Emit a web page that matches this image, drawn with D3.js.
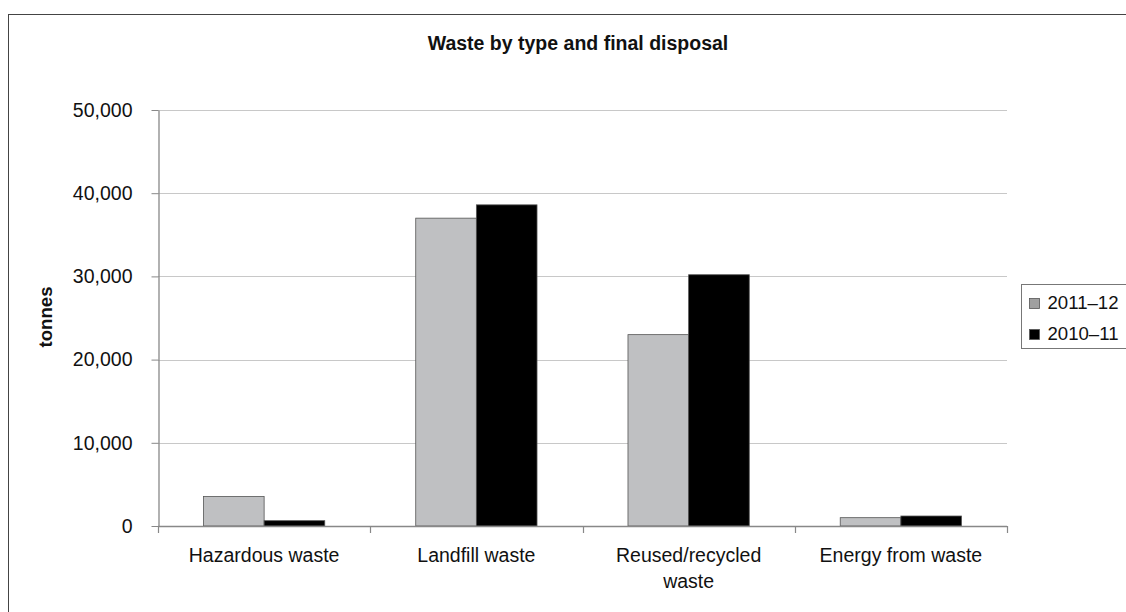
<!DOCTYPE html>
<html>
<head>
<meta charset="utf-8">
<script src="https://cdn.jsdelivr.net/npm/d3@7"></script>
<style>
  html, body { margin: 0; padding: 0; background: #fff; }
  svg { display: block; font-family: "Liberation Sans", Arial, sans-serif; }
</style>
</head>
<body>
<svg id="chart" width="1126" height="612"></svg>
<script>
// Waste categories (x axis), with line breaks for wrapped labels
const categories = ["Hazardous waste", "Landfill waste", "Reused/recycled\nwaste", "Energy from waste"];
const seriesNames = ["2011–12", "2010–11"];
const values2011_12 = [3550, 37000, 23000, 1000];
const values2010_11 = [640, 38600, 30200, 1200];
const yTicks = [0, 10000, 20000, 30000, 40000, 50000];

const seriesValues = [values2011_12, values2010_11];
const seriesColors = ["#bfc0c2", "#000000"];
const legendColors = ["#a0a0a0", "#000000"];

const svg = d3.select("#chart");
const margin = { left: 158, right: 1007, top: 110, bottom: 526 };

// Outer chart frame
svg.append("rect")
  .attr("x", 8.5).attr("y", 14.5)
  .attr("width", 1130).attr("height", 620)
  .attr("fill", "none").attr("stroke", "#444").attr("stroke-width", 1);

svg.append("text")
  .attr("x", 578).attr("y", 50)
  .attr("text-anchor", "middle")
  .attr("font-size", 19.5).attr("font-weight", "bold")
  .attr("fill", "#111")
  .text("Waste by type and final disposal");

const x = d3.scaleBand()
  .domain(d3.range(categories.length))
  .range([margin.left, margin.right])
  .paddingInner(0).paddingOuter(0);

const inner = d3.scaleBand()
  .domain(d3.range(seriesNames.length))
  .range([0, x.bandwidth()])
  .paddingOuter(0.75);

const y = d3.scaleLinear().domain([0, 50000]).range([margin.bottom, margin.top]);

// Horizontal gridlines
svg.append("g").selectAll("line")
  .data(yTicks.filter(d => d > 0))
  .join("line")
  .attr("x1", margin.left).attr("x2", margin.right)
  .attr("y1", d => Math.round(y(d)) + 0.5).attr("y2", d => Math.round(y(d)) + 0.5)
  .attr("stroke", "#c8c8c8").attr("stroke-width", 1.2);

// Bars
categories.forEach((c, i) => {
  seriesValues.forEach((vals, s) => {
    const x0 = x(i) + inner(s);
    svg.append("rect")
      .attr("x", x0)
      .attr("y", y(vals[i]))
      .attr("width", inner.bandwidth())
      .attr("height", y(0) - y(vals[i]))
      .attr("fill", seriesColors[s])
      .attr("stroke", "#555").attr("stroke-width", 0.8);
  });
});

// Y axis
const yAxis = d3.axisLeft(y)
  .tickValues(yTicks)
  .tickFormat(d3.format(","))
  .tickSize(7).tickSizeOuter(0).tickPadding(19);
const gy = svg.append("g")
  .attr("transform", `translate(${margin.left + 0.5},0)`)
  .call(yAxis);
gy.select(".domain").attr("stroke", "#888").attr("stroke-width", 1.3);
gy.selectAll(".tick line").attr("stroke", "#888");
gy.selectAll(".tick text")
  .attr("font-size", 19.5).attr("fill", "#111")
  .attr("font-family", "Liberation Sans, Arial, sans-serif");

// X axis with ticks at category boundaries
svg.append("line")
  .attr("x1", margin.left).attr("x2", margin.right)
  .attr("y1", y(0) + 0.5).attr("y2", y(0) + 0.5)
  .attr("stroke", "#888").attr("stroke-width", 1.3);
const boundaries = d3.range(categories.length + 1).map(i => margin.left + i * x.bandwidth());
svg.append("g").selectAll("line")
  .data(boundaries)
  .join("line")
  .attr("x1", d => Math.round(d) + 0.5).attr("x2", d => Math.round(d) + 0.5)
  .attr("y1", y(0)).attr("y2", y(0) + 7)
  .attr("stroke", "#888").attr("stroke-width", 1.2);

// Category labels
categories.forEach((c, i) => {
  const t = svg.append("text")
    .attr("x", x(i) + x.bandwidth() / 2)
    .attr("y", 562)
    .attr("text-anchor", "middle")
    .attr("font-size", 19.5)
    .attr("fill", "#111");
  c.split("\n").forEach((line, k) => {
    t.append("tspan")
      .attr("x", x(i) + x.bandwidth() / 2)
      .attr("dy", k === 0 ? 0 : 26)
      .text(line);
  });
});

// Y axis title
svg.append("text")
  .attr("transform", "translate(52,317) rotate(-90)")
  .attr("text-anchor", "middle")
  .attr("font-size", 18.6).attr("font-weight", "bold")
  .attr("fill", "#111")
  .text("tonnes");

// Legend
const lg = svg.append("g");
lg.append("rect")
  .attr("x", 1021.5).attr("y", 284.5)
  .attr("width", 110).attr("height", 64)
  .attr("fill", "#fff").attr("stroke", "#777").attr("stroke-width", 1);
seriesNames.forEach((name, s) => {
  const top = 298 + s * 31;
  lg.append("rect")
    .attr("x", 1029.5).attr("y", top + 0.5)
    .attr("width", 10).attr("height", 10)
    .attr("fill", legendColors[s])
    .attr("stroke", "#555").attr("stroke-width", 0.8);
  lg.append("text")
    .attr("x", 1047.5).attr("y", top + 10.5)
    .attr("font-size", 18.6).attr("fill", "#111")
    .text(name);
});
</script>
</body>
</html>
